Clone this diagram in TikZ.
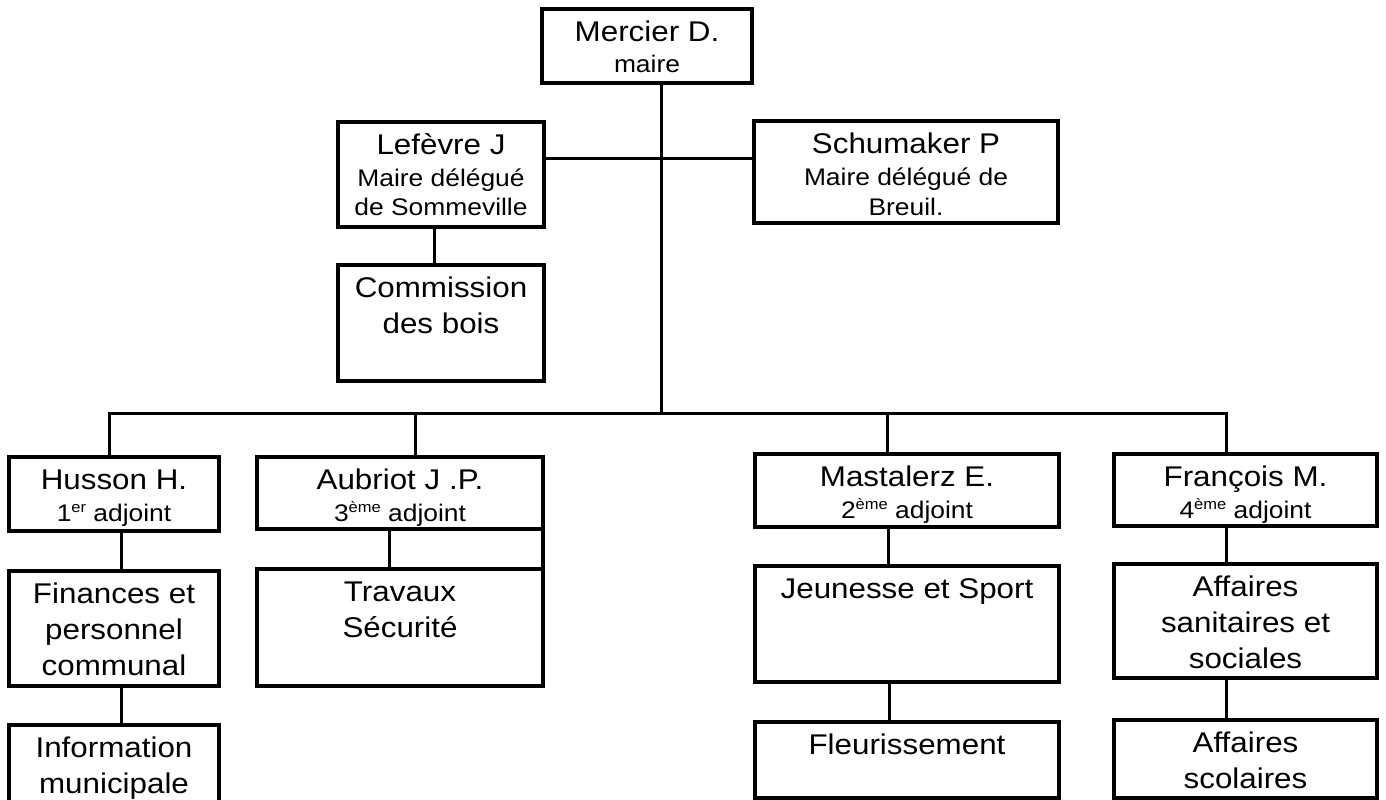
\documentclass[tikz,border=0pt]{standalone}
\usepackage{fontspec}
\setmainfont{Liberation Sans}[FakeStretch=1.1]
\newcommand\bigf{\fontsize{28.5}{36}\selectfont}
\newcommand\hdrf{\fontsize{28.5}{32}\selectfont}
\newcommand\smf{\fontsize{24}{28}\selectfont}
\newcommand\mysup[1]{\raisebox{9pt}{\fontsize{15}{15}\selectfont #1}}
\newcommand\fl{\rule{0pt}{24pt}}
\begin{document}
\begin{tikzpicture}[x=1pt,y=-1pt,
  box/.style={draw=black, line width=3.5pt, inner sep=0pt, outer sep=0pt, anchor=north west},
  txt/.style={inner sep=0pt, outer sep=0pt, align=center, anchor=north, font=\bigf},
  hdr/.style={txt, font=\hdrf},
  link/.style={draw=black, line width=3pt}]
\useasboundingbox (0,0) rectangle (1386,800);
\fill[white] (0,0) rectangle (1386,800);

% boxes
\node[box, minimum width=210pt, minimum height=74pt]  (mercier)    at (542,9) {};
\node[box, minimum width=206pt, minimum height=105pt] (lefevre)    at (338,122) {};
\node[box, minimum width=304pt, minimum height=102pt] (schumaker)  at (754,121) {};
\node[box, minimum width=206pt, minimum height=116pt] (commission) at (338,265) {};
\node[box, minimum width=210pt, minimum height=74pt]  (husson)     at (9,457) {};
\node[box, minimum width=210pt, minimum height=115pt] (finances)   at (9,571) {};
\node[box, minimum width=210pt, minimum height=78pt]  (info)       at (9,725) {};
\node[box, minimum width=286pt, minimum height=72pt]  (aubriot)    at (257,457) {};
\node[box, minimum width=286pt, minimum height=117pt] (travaux)    at (257,569) {};
\node[box, minimum width=304pt, minimum height=73pt]  (mastalerz)  at (755,454) {};
\node[box, minimum width=304pt, minimum height=116pt] (jeunesse)   at (755,566) {};
\node[box, minimum width=304pt, minimum height=76pt]  (fleur)      at (755,722) {};
\node[box, minimum width=263pt, minimum height=72pt]  (francois)   at (1114,454) {};
\node[box, minimum width=263pt, minimum height=114pt] (affsan)     at (1114,564) {};
\node[box, minimum width=263pt, minimum height=78pt]  (affscol)    at (1114,720) {};

% texts
\node[hdr] (mercier-t) at ([yshift=-8pt]mercier.north) {\fl Mercier D.\\{\smf maire}};
\node[hdr] (lefevre-t) at ([yshift=-8pt]lefevre.north) {\fl Lefèvre J\\{\smf Maire délégué}\\[-3pt]{\smf de Sommeville}};
\node[hdr] (schumaker-t) at ([yshift=-8pt]schumaker.north) {\fl Schumaker P\\{\smf Maire délégué de}\\[-2pt]{\smf Breuil.}};
\node[txt] (commission-t) at ([yshift=-8pt]commission.north) {\fl Commission\\des bois};
\node[hdr] (husson-t) at ([yshift=-8pt]husson.north) {\fl Husson H.\\{\smf 1\mysup{er} adjoint}};
\node[txt] (finances-t) at ([yshift=-8pt]finances.north) {\fl Finances et\\personnel\\communal};
\node[txt] (info-t) at ([yshift=-8pt]info.north) {\fl Information\\municipale};
\node[hdr] (aubriot-t) at ([yshift=-8pt]aubriot.north) {\fl Aubriot J .P.\\{\smf 3\mysup{ème} adjoint}};
\node[txt] (travaux-t) at ([yshift=-8pt]travaux.north) {\fl Travaux\\Sécurité};
\node[hdr] (mastalerz-t) at ([yshift=-8pt]mastalerz.north) {\fl Mastalerz E.\\{\smf 2\mysup{ème} adjoint}};
\node[txt] (jeunesse-t) at ([yshift=-8pt]jeunesse.north) {\fl Jeunesse et Sport};
\node[txt] (fleur-t) at ([yshift=-8pt]fleur.north) {\fl Fleurissement};
\node[hdr] (francois-t) at ([yshift=-8pt]francois.north) {\fl François M.\\{\smf 4\mysup{ème} adjoint}};
\node[txt] (affsan-t) at ([yshift=-8pt]affsan.north) {\fl Affaires\\sanitaires et\\sociales};
\node[txt] (affscol-t) at ([yshift=-8pt]affscol.north) {\fl Affaires\\scolaires};

% connectors
\coordinate (bus) at (661,413);
\draw[link] ([xshift=14pt]mercier.south) -- (bus);
\draw[link] ([yshift=16.5pt]lefevre.east) -- ([yshift=16.5pt]lefevre.east -| schumaker.west);
\draw[link] ([xshift=-7pt]lefevre.south) -- ([xshift=-7pt]lefevre.south |- commission.north);
\draw[link] ([xshift=-5pt]husson.north) |- (bus) -| ([xshift=-19.5pt]francois.north);
\draw[link] ([xshift=15pt]aubriot.north) -- ([xshift=15pt]aubriot.north |- bus);
\draw[link] ([xshift=-20pt]mastalerz.north) -- ([xshift=-20pt]mastalerz.north |- bus);
\draw[link] ([xshift=7pt]husson.south) -- ([xshift=7pt]husson.south |- finances.north);
\draw[link] ([xshift=7pt]finances.south) -- ([xshift=7pt]finances.south |- info.north);
\draw[link] ([xshift=-11pt]aubriot.south) -- ([xshift=-11pt]aubriot.south |- travaux.north);
\draw[link, line width=3.5pt] (aubriot.south east) -- (travaux.north east);
\draw[link] ([xshift=-19pt]mastalerz.south) -- ([xshift=-19pt]mastalerz.south |- jeunesse.north);
\draw[link] ([xshift=-18pt]jeunesse.south) -- ([xshift=-18pt]jeunesse.south |- fleur.north);
\draw[link] ([xshift=-19.5pt]francois.south) -- ([xshift=-19.5pt]francois.south |- affsan.north);
\draw[link] ([xshift=-19.5pt]affsan.south) -- ([xshift=-19.5pt]affsan.south |- affscol.north);
\end{tikzpicture}
\end{document}
